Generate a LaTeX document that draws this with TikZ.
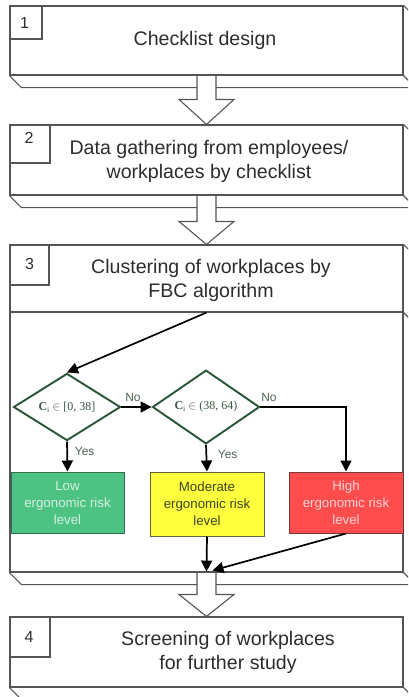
\documentclass[tikz,border=0pt]{standalone}
\usepackage{fontspec}
\setmainfont{Liberation Sans}
\newfontfamily\serifface{Liberation Serif}
\usetikzlibrary{arrows.meta,calc,shapes.geometric}

\definecolor{edge}{RGB}{85,85,85}
\definecolor{ink}{RGB}{45,45,45}
\definecolor{dgreen}{RGB}{40,85,55}
\definecolor{dtext}{RGB}{60,88,70}
\definecolor{lbl}{RGB}{80,100,85}
\definecolor{lowfill}{RGB}{76,194,131}
\definecolor{lowedge}{RGB}{50,110,75}
\definecolor{lowtext}{RGB}{215,240,222}
\definecolor{modfill}{RGB}{255,255,62}
\definecolor{modedge}{RGB}{100,100,60}
\definecolor{modtext}{RGB}{58,70,32}
\definecolor{highfill}{RGB}{255,76,76}
\definecolor{highedge}{RGB}{120,55,55}
\definecolor{hightext}{RGB}{255,212,212}

\tikzset{
  front/.style={draw=edge, line width=1.1pt, fill=white, inner sep=0pt,
                minimum width=393pt},
  numbox/.style={draw=edge, line width=1.1pt, fill=white, inner sep=0pt,
                 anchor=north west},
  numtext/.style={font=\fontsize{16}{16}\selectfont, text=ink},
  headtext/.style={font=\fontsize{19.6}{24}\selectfont, text=ink, align=center},
  slab/.style={draw=edge, line width=1.1pt},
  blockarrow/.style={draw=edge, line width=1.1pt, fill=white},
  decision/.style={diamond, draw=dgreen, line width=1.9pt, fill=white,
                   inner sep=0pt, minimum width=107pt, minimum height=59pt,
                   font=\serifface\fontsize{12}{12}\selectfont, text=dtext},
  level/.style={line width=1pt, inner sep=0pt, align=center,
                font=\fontsize{13.3}{17}\selectfont},
  flow/.style={line width=1.7pt, -{Triangle[length=11pt,width=11pt]}},
  lbltext/.style={font=\fontsize{12}{12}\selectfont, text=lbl, inner sep=0pt}
}

\begin{document}
\begin{tikzpicture}[x=1pt,y=-1pt]
\useasboundingbox (0,0) rectangle (408,697);
\clip (0,0) rectangle (408,697);

% front faces of the four stages (stage 3 has a header and a body)
\path
  node[front, minimum height=69pt] (b1)  at (206.5,40.5) {}
  node[front, minimum height=70pt] (b2)  at (206.5,160) {}
  node[front, minimum height=67pt] (b3h) at (206.5,278.5) {}
  node[front, minimum height=260pt] (b3) at (206.5,442) {}
  node[front, minimum height=70pt] (b4)  at (206.5,652) {};

% depth of each stage box
\foreach \b in {b1,b2,b3,b4}{
  \draw[slab] (\b.south west) -- ++(12,12) -- ($(\b.south east)+(12,12)$);
  \draw[slab] (\b.south east) -- ++(12,12);
}
\foreach \b in {b1,b2,b3h}{
  \draw[slab] (\b.north east) -- ++(12,12);
}
\draw[slab] (b3h.south east) -- ++(12,12);

% hollow arrows between stages
\draw[blockarrow] ($(b1.south)+(-9.5,0.6)$) -- ($(b2.north)+(-9.5,-25)$)
  -- ++(-18,0) -- (b2.north) -- ($(b2.north)+(27.5,-25)$) -- ++(-18,0)
  -- ($(b1.south)+(9.5,0.6)$);
\draw[blockarrow] ($(b2.south)+(-9.5,0.6)$) -- ($(b3h.north)+(-9.5,-23)$)
  -- ++(-18,0) -- (b3h.north) -- ($(b3h.north)+(27.5,-23)$) -- ++(-18,0)
  -- ($(b2.south)+(9.5,0.6)$);
\draw[blockarrow] ($(b3.south)+(-9.5,0.6)$) -- ($(b4.north)+(-9.5,-22)$)
  -- ++(-18,0) -- (b4.north) -- ($(b4.north)+(27.5,-22)$) -- ++(-18,0)
  -- ($(b3.south)+(9.5,0.6)$);

% redraw the edges the arrows touch
\draw[slab] (b1.south west) -- (b1.south east);
\draw[slab] (b2.south west) -- (b2.south east);
\draw[slab] (b3.south west) -- (b3.south east);
\draw[slab] (b2.north west) -- (b2.north east);
\draw[slab] (b3h.north west) -- (b3h.north east);
\draw[slab] (b4.north west) -- (b4.north east);

% stage numbers
\node[numbox, minimum width=32pt, minimum height=33pt] (n1) at (b1.north west) {};
\node[numbox, minimum width=40pt, minimum height=38pt] (n2) at (b2.north west) {};
\node[numbox, minimum width=39pt, minimum height=40pt] (n3) at (b3h.north west) {};
\node[numbox, minimum width=40pt, minimum height=40pt] (n4) at (b4.north west) {};
\node[numtext] (t1) at ($(n1.center)+(-1.5,0)$) {1};
\node[numtext] (t2) at ($(n2.center)+(-1,-6)$) {2};
\node[numtext] (t3) at ($(n3.center)+(0,-1)$) {3};
\node[numtext] (t4) at ($(n4.center)+(-1,0)$) {4};

% stage titles
\node[headtext] (h1) at (205,40) {Checklist design};
\node[headtext] (h2) at (209,161) {Data gathering from employees/\\workplaces by checklist};
\node[headtext] (h3) at (211,280) {Clustering of workplaces by\\FBC algorithm};
\node[headtext] (h4) at (228,652) {Screening of workplaces\\for further study};

% clustering decisions
\node[decision] (d1) at (67,407) {\textbf{C}\raisebox{-0.35ex}{\fontsize{8}{8}\selectfont i} $\in$ [0, 38]};
\node[decision] (d2) at (206,407) {\textbf{C}\raisebox{-0.35ex}{\fontsize{8}{8}\selectfont i} $\in$ (38, 64)};

\node[level, draw=lowedge, fill=lowfill, text=lowtext, minimum width=113pt, minimum height=61pt]
  (low) at (67.5,502.5) {Low\\ergonomic risk\\level};
\node[level, draw=modedge, fill=modfill, text=modtext, minimum width=114pt, minimum height=64pt]
  (mod) at (207,504) {Moderate\\ergonomic risk\\level};
\node[level, draw=highedge, fill=highfill, text=hightext, minimum width=114pt, minimum height=61pt]
  (high) at (346,502.5) {High\\ergonomic risk\\level};

\coordinate (merge) at ($(b3.south)+(0,-1)$);
\coordinate (merge2) at ($(b3.south)+(6,-2)$);

\draw[flow] (b3h.south) -- (d1.north);
\draw[flow] (d1.east) -- node[lbltext, pos=0, anchor=south west, xshift=3pt, yshift=5pt] (no1) {No} (d2.west);
\draw[flow] (d2.east) -| node[lbltext, pos=0, anchor=south west, xshift=0pt, yshift=5pt] (no2) {No} (high.north);
\draw[flow] (d1.south) -- node[lbltext, pos=0, anchor=north west, xshift=7pt, yshift=-5pt] (yes1) {Yes} (low.north);
\draw[flow] (d2.south) -- node[lbltext, pos=0, anchor=north west, xshift=11pt, yshift=-5pt] (yes2) {Yes} (mod.north);
\draw[flow] (mod.south) -- (merge);
\draw[flow] (high.south) -- (merge2);
\end{tikzpicture}
\end{document}
